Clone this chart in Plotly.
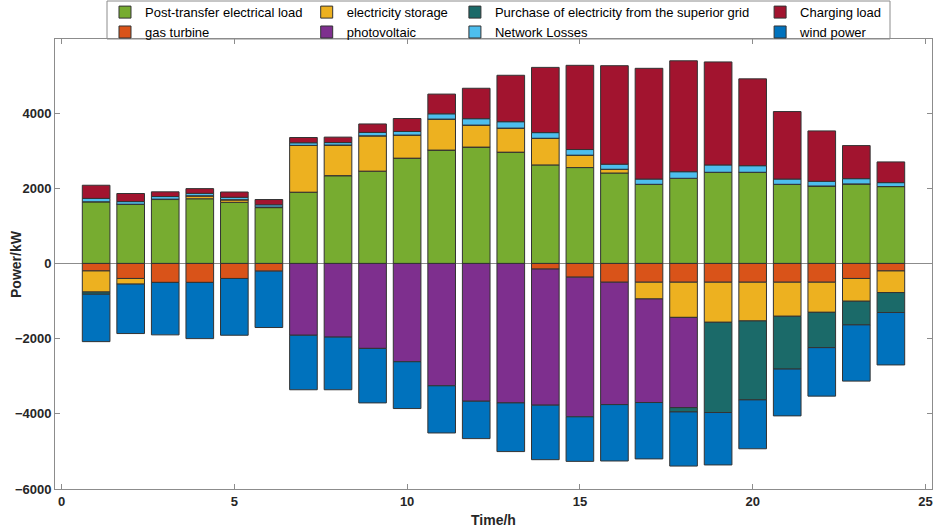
import plotly.graph_objects as go

hours = list(range(1, 25))

# positive side
load = [1640, 1575, 1700, 1720, 1625, 1485, 1895, 2335, 2455, 2800, 3015, 3095,
        2960, 2620, 2550, 2405, 2105, 2265, 2425, 2425, 2105, 2060, 2115, 2045]
storage = [-560, -150, 10, 80, 70, 15, 1245, 815, 940, 615, 825, 585,
           640, 710, 330, 100, -445, -935, -1065, -1030, -905, -800, -605, -575]
losses = [90, 70, 70, 65, 65, 60, 70, 65, 90, 95, 140, 170,
          170, 150, 150, 135, 140, 175, 195, 175, 140, 125, 140, 105]
charging = [350, 215, 125, 125, 140, 140, 140, 145, 225, 345, 525, 810,
            1235, 1735, 2240, 2620, 2945, 2950, 2740, 2310, 1795, 1340, 880, 550]

# negative side
gas = [-200, -400, -505, -505, -400, -205, 0, 0, 0, 0, 0, 0,
       0, -150, -365, -500, -500, -500, -500, -500, -500, -500, -400, -200]
pv = [0, 0, 0, 0, 0, 0, -1910, -1960, -2260, -2615, -3255, -3665,
      -3710, -3620, -3715, -3255, -2755, -2400, 0, 0, 0, 0, 0, 0]
grid = [-60, 0, 0, 0, 0, 0, 0, 0, 0, 0, 0, 0,
        0, 0, 0, 0, 0, -115, -2400, -2100, -1405, -940, -630, -530]
wind = [-1260, -1315, -1395, -1495, -1510, -1500, -1450, -1400, -1450, -1245, -1255, -995,
        -1295, -1450, -1185, -1500, -1500, -1440, -1395, -1300, -1245, -1290, -1495, -1395]

# order matters for stacking (column-major like the matlab legend)
series = [
    ("Post-transfer electrical load", load, "#77AC30", "legend"),
    ("gas turbine", gas, "#D95319", "legend"),
    ("electricity storage", storage, "#EDB120", "legend2"),
    ("photovoltaic", pv, "#7E2F8E", "legend2"),
    ("Purchase of electricity from the superior grid", grid, "#1B6A69", "legend3"),
    ("Network Losses", losses, "#4DBEEE", "legend3"),
    ("Charging load", charging, "#A2142F", "legend4"),
    ("wind power", wind, "#0072BD", "legend4"),
]

fig = go.Figure()
for name, vals, col, lg in series:
    fig.add_trace(go.Bar(x=hours, y=vals, name=name, legend=lg,
                         marker=dict(color=col, line=dict(color="#333333", width=1))))

font = "Liberation Sans, Arial, sans-serif"
leg = dict(orientation="v", traceorder="normal", yanchor="top", y=1.093,
           xanchor="left", bgcolor="rgba(0,0,0,0)", borderwidth=0,
           font=dict(family=font, size=13, color="#000"), tracegroupgap=0)

fig.update_layout(
    width=934, height=528,
    margin=dict(l=55, r=2, t=39, b=39, autoexpand=False),
    barmode="relative", bargap=0.2,
    plot_bgcolor="white", paper_bgcolor="white",
    font=dict(family=font, size=13, color="#262626"),
    legend=dict(leg, x=0.057),
    legend2=dict(leg, x=0.287),
    legend3=dict(leg, x=0.456),
    legend4=dict(leg, x=0.804),
    xaxis=dict(range=[-0.19, 25.19], tickvals=[0, 5, 10, 15, 20, 25], automargin=False,
               ticks="inside", ticklen=5, tickcolor="#8c8c8c",
               showline=True, linecolor="#8c8c8c", mirror="ticks", showgrid=False, zeroline=False,
               tickfont=dict(size=13, family=font, color="#262626", weight="bold")),
    yaxis=dict(range=[-6000, 5970], tickvals=[-6000, -4000, -2000, 0, 2000, 4000], automargin=False,
               ticks="inside", ticklen=5, tickcolor="#8c8c8c",
               showline=True, linecolor="#8c8c8c", mirror="ticks", showgrid=False,
               zeroline=True, zerolinecolor="#8c8c8c", zerolinewidth=1,
               tickfont=dict(size=13, family=font, color="#262626", weight="bold")),
    annotations=[
        dict(text="<b>Time/h</b>", xref="paper", yref="paper", x=0.5, y=-0.069,
             xanchor="center", yanchor="middle", showarrow=False,
             font=dict(size=14, family=font, color="#262626")),
        dict(text="<b>Power/kW</b>", xref="paper", yref="paper", x=-0.0445, y=0.5,
             xanchor="center", yanchor="middle", textangle=-90, showarrow=False,
             font=dict(size=14, family=font, color="#262626")),
    ],
    shapes=[dict(type="rect", xref="paper", yref="paper",
                 x0=(107 - 55) / 877, x1=(890 - 55) / 877, y0=1.0, y1=1 + 38 / 450,
                 line=dict(color="#8c8c8c", width=1), fillcolor="white", layer="below")],
)

# drop the default 8px page margin so the chart sits at the window corner
fig.write_html("out.html", config={"displayModeBar": False},
               post_script="document.body.style.margin='0';")
